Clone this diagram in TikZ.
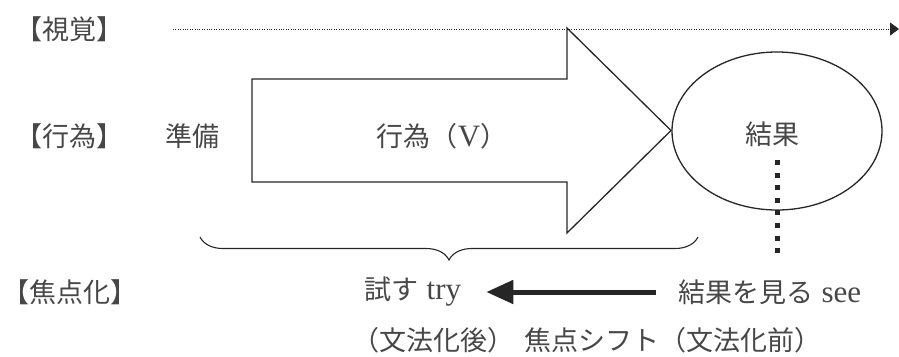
\documentclass[tikz,border=0pt]{standalone}
\usepackage{fontspec}
\setmainfont{Liberation Serif}[Scale=1.15]
\newfontfamily\cjk{Noto Sans CJK JP}
\usetikzlibrary{shapes.geometric,decorations.pathreplacing,arrows.meta}
\begin{document}
\begin{tikzpicture}[x=1pt,y=-1pt,
  lbl/.style={inner sep=0pt,font=\fontsize{27}{30}\selectfont,text=black!72},
  shapeline/.style={line width=1.3pt,draw=black!85},
]
\useasboundingbox (0,0) rectangle (899,356);
% labels
\node[lbl] (vis) at (70,29) {\cjk 【視覚】};
\node[lbl] (act) at (70,136) {\cjk 【行為】};
\node[lbl] (prep) at (192,136) {\cjk 準備};
\node[lbl] (verb) at (442,136) {{\cjk 行為（}V{\cjk ）}};
\node[lbl] (foc) at (70,292) {\cjk 【焦点化】};
\node[lbl] (try) at (413,292) {{\cjk 試す} try};
\node[lbl] (see) at (770,292) {{\cjk 結果を見る} see};
\node[lbl] (gram) at (587,340) {\cjk （文法化後）\hspace{0.4em}焦点シフト（文法化前）};
% visual dotted arrow
\coordinate (vstart) at (173,29);
\coordinate (vend) at (899,29);
\draw[black!85,line width=0.8pt,dash pattern=on 1pt off 1.4pt,-{Triangle[length=9pt,width=13pt]}] (vstart) -- (vend);
% big arrow
\draw[shapeline] (252,79) -- (567,79) -- (567,28) -- (671,130.5) -- (567,233) -- (567,182) -- (252,182) -- cycle;
% result ellipse
\node[ellipse,shapeline,minimum width=210pt,minimum height=158pt,inner sep=0pt] (res) at (777,131) {};
\node[lbl] (restext) at (772,134) {\cjk 結果};
% vertical dotted line
\coordinate (vd1) at (777,160);
\coordinate (vd2) at (777,254);
\draw[black!85,line width=5pt,dash pattern=on 5pt off 7.6pt] (vd1) -- (vd2);
% brace
\coordinate (br1) at (698,237);
\coordinate (br2) at (200,237);
\draw[black!85,line width=1.1pt,decorate,decoration={brace,amplitude=23pt}] (br1) -- (br2);
% focus shift arrow
\draw[black!85,line width=5pt,shorten <=23pt,shorten >=25pt,-{Triangle[length=27pt,width=23pt]}] (see.west) -- (try.east);
\end{tikzpicture}
\end{document}
